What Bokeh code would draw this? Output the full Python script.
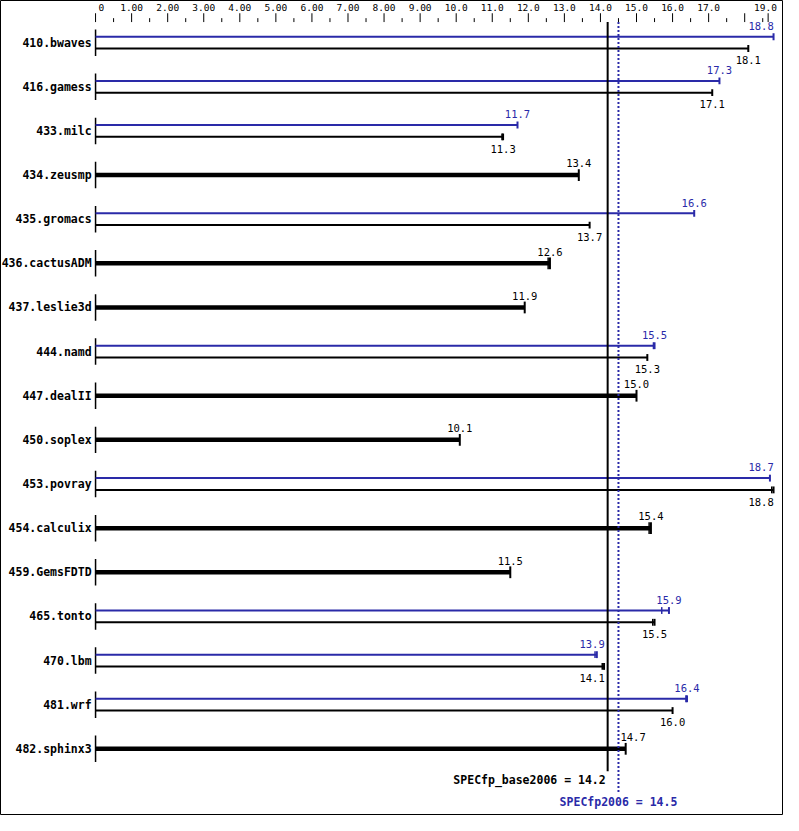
from bokeh.plotting import figure
from bokeh.models import Range1d, ColumnDataSource
from bokeh.embed import file_html
from bokeh.resources import INLINE
from bokeh.core.properties import value

# ---------------- data ----------------
benchmarks = ["410.bwaves", "416.gamess", "433.milc", "434.zeusmp", "435.gromacs",
              "436.cactusADM", "437.leslie3d", "444.namd", "447.dealII", "450.soplex",
              "453.povray", "454.calculix", "459.GemsFDTD", "465.tonto", "470.lbm",
              "481.wrf", "482.sphinx3"]
base_ratio = [18.1, 17.1, 11.3, 13.4, 13.7, 12.6, 11.9, 15.3, 15.0, 10.1,
              18.8, 15.4, 11.5, 15.5, 14.1, 16.0, 14.7]
peak_ratio = [18.8, 17.3, 11.7, None, 16.6, None, None, 15.5, None, None,
              18.7, None, None, 15.9, 13.9, 16.4, None]
# other individual runs visible as extra end marks
base_other_run = [None, None, 11.27, None, None, 12.55, None, None, None, None,
                  18.75, 15.35, None, 15.45, 14.05, None, None]
peak_other_run = [None, None, None, None, None, None, None, 15.47, None, None,
                  None, None, None, 15.7, 13.85, 16.37, None]
base_score = 14.2
peak_score = 14.5
base_score_label = "SPECfp_base2006 = 14.2"
peak_score_label = "SPECfp2006 = 14.5"

major_ticks = list(range(0, 19)) + [18.65]
major_labels = ["0", "1.00", "2.00", "3.00", "4.00", "5.00", "6.00", "7.00", "8.00", "9.00",
                "10.0", "11.0", "12.0", "13.0", "14.0", "15.0", "16.0", "17.0", "", "19.0"]
minor_ticks = [i + 0.5 for i in range(0, 19)]

BLUE = "#2a2aa8"
BLACK = "#000000"
MONO = "DejaVu Sans Mono"

# ---------------- geometry (reference px -> data units) ----------------
XU = 36.8   # px per ratio unit
X0 = 97.0   # px of ratio 0
YU = 45.0   # px per row
Y0 = 43.0   # px of first row


def dx(px):
    return px / XU


def dy(px):
    return px / YU


W, H = 783, 815
p = figure(width=W, height=H,
           x_range=Range1d(-X0 / XU, (799 - X0) / XU),
           y_range=Range1d((831 - Y0) / YU, -Y0 / YU),
           output_backend="svg", toolbar_location=None, min_border=0,
           x_axis_location=None, y_axis_location=None)
p.grid.visible = False
p.outline_line_color = "black"
p.outline_line_width = 1
p.background_fill_color = "white"

# ---------------- scale on top ----------------
y_tick_bottom = dy(22 - Y0)
p.segment(x0=major_ticks, x1=major_ticks,
          y0=[dy(13 - Y0)] * len(major_ticks), y1=[y_tick_bottom] * len(major_ticks),
          line_color=BLACK, line_width=1)
p.segment(x0=minor_ticks, x1=minor_ticks,
          y0=[dy(18 - Y0)] * len(minor_ticks), y1=[y_tick_bottom] * len(minor_ticks),
          line_color=BLACK, line_width=1)
lab_x_c, lab_t_c = [], []
for v, t in zip(major_ticks, major_labels):
    if t == "" or v == 0 or t == "19.0":
        continue
    lab_x_c.append(v)
    lab_t_c.append(t)
p.text(x=lab_x_c, y=[dy(7 - Y0)] * len(lab_x_c), text=lab_t_c,
       text_align="center", text_baseline="middle", text_font=value(MONO),
       text_font_size="9.5px", text_color=BLACK)
p.text(x=[major_ticks[0] + dx(3)], y=[dy(7 - Y0)], text=[major_labels[0]],
       text_align="left", text_baseline="middle", text_font=value(MONO),
       text_font_size="9.5px", text_color=BLACK)
p.text(x=[major_ticks[-1] + dx(9)], y=[dy(7 - Y0)], text=[major_labels[-1]],
       text_align="right", text_baseline="middle", text_font=value(MONO),
       text_font_size="9.5px", text_color=BLACK)

# ---------------- rows ----------------
rows = list(range(len(benchmarks)))

# left axis stubs
p.segment(x0=[0] * len(rows), x1=[0] * len(rows),
          y0=[r - dy(13.5) for r in rows], y1=[r + dy(13.5) for r in rows],
          line_color=BLACK, line_width=1.5)

# benchmark names
p.text(x=[-dx(4)] * len(rows), y=rows, text=benchmarks, text_align="right",
       text_baseline="middle", text_font=value(MONO), text_font_size="11.5px",
       text_font_style="bold", text_color=BLACK)

HALF = dx(12)
RMAX = (789 - X0) / XU


def place(v):
    if v - HALF < base_score < v + HALF:
        return base_score - dx(3), "right"
    if v - HALF < peak_score < v + HALF:
        return peak_score + dx(2), "left"
    if v + HALF > RMAX:
        return RMAX, "right"
    return v, "center"


bars = {"thin_b": ([], [], []), "thin_p": ([], [], []), "thick": ([], [], [])}
extra = {BLACK: ([], [], []), BLUE: ([], [], [])}
labels = {}  # (color, align) -> (xs, ys, texts)


def add_label(color, v, y):
    x, al = place(v)
    key = (color, al)
    labels.setdefault(key, ([], [], []))
    labels[key][0].append(x)
    labels[key][1].append(y)
    labels[key][2].append(f"{v:.1f}")


def add_extra(color, v, y, h):
    if v is None:
        return
    extra[color][0].append(v)
    extra[color][1].append(y - h)
    extra[color][2].append(y + h)


for r, b, pk, bo, po in zip(rows, base_ratio, peak_ratio, base_other_run, peak_other_run):
    if pk is None:
        bars["thick"][0].append(b)
        bars["thick"][1].append(r)
        bars["thick"][2].append(dy(6))
        add_extra(BLACK, bo, r, dy(6))
        add_label(BLACK, b, r - dy(12))
    else:
        bars["thin_p"][0].append(pk)
        bars["thin_p"][1].append(r - dy(6))
        bars["thin_p"][2].append(dy(3.5))
        add_extra(BLUE, po, r - dy(6), dy(3.5))
        add_label(BLUE, pk, r - dy(17))
        bars["thin_b"][0].append(b)
        bars["thin_b"][1].append(r + dy(6))
        bars["thin_b"][2].append(dy(3.5))
        add_extra(BLACK, bo, r + dy(6), dy(3.5))
        add_label(BLACK, b, r + dy(18))

style = {"thin_b": (BLACK, 2), "thin_p": (BLUE, 2), "thick": (BLACK, 4.5)}
for k, (vals, ys, hs) in bars.items():
    col, lw = style[k]
    src = ColumnDataSource(dict(x0=[0] * len(vals), x1=vals, y=ys,
                                cy0=[y - h for y, h in zip(ys, hs)],
                                cy1=[y + h for y, h in zip(ys, hs)]))
    p.segment(x0="x0", x1="x1", y0="y", y1="y", source=src, line_color=col, line_width=lw)
    p.segment(x0="x1", x1="x1", y0="cy0", y1="cy1", source=src, line_color=col, line_width=2)

for col, (xs, y0s, y1s) in extra.items():
    p.segment(x0=xs, x1=xs, y0=y0s, y1=y1s, line_color=col, line_width=1.5)

for (col, al), (xs, ys, ts) in labels.items():
    p.text(x=xs, y=ys, text=ts, text_align=al, text_baseline="middle",
           text_font=value(MONO), text_font_size="10.5px", text_color=col)

# ---------------- overall score lines ----------------
p.segment(x0=[base_score], x1=[base_score], y0=[y_tick_bottom], y1=[dy(786 - Y0)],
          line_color=BLACK, line_width=2)
p.segment(x0=[peak_score], x1=[peak_score], y0=[y_tick_bottom], y1=[dy(807 - Y0)],
          line_color=BLUE, line_width=2, line_dash="2 2")
p.text(x=[base_score - dx(2)], y=[dy(795 - Y0)], text=[base_score_label],
       text_align="right", text_baseline="middle", text_font=value(MONO),
       text_font_size="11.5px", text_font_style="bold", text_color=BLACK)
p.text(x=[peak_score], y=[dy(817 - Y0)], text=[peak_score_label],
       text_align="center", text_baseline="middle", text_font=value(MONO),
       text_font_size="11.5px", text_font_style="bold", text_color=BLUE)

open("out.html", "w").write(file_html(p, INLINE))
